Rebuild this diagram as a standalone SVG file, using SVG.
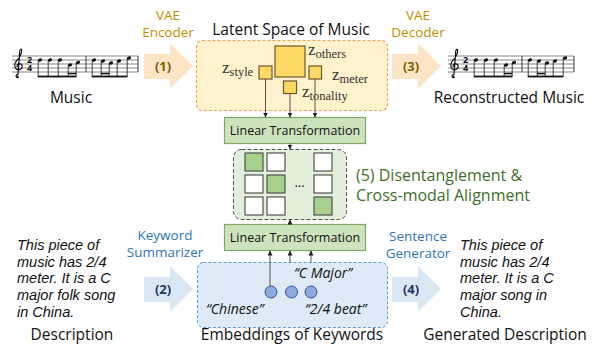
<svg xmlns="http://www.w3.org/2000/svg" width="592" height="345" viewBox="0 0 592 345">
  <defs>
    <marker id="tip" viewBox="0 0 6 6" refX="6" refY="3" markerWidth="5" markerHeight="5" orient="auto" markerUnits="userSpaceOnUse">
      <path d="M0,0 L6,3 L0,6 Z" fill="#222"/>
    </marker>
    <!-- one line of sheet music: staff, clef, 2/4 time, two beamed measures -->
    <g id="score">
      <g stroke="#555" stroke-width="0.7">
        <line x1="12" y1="56" x2="138" y2="56"/>
        <line x1="12" y1="60" x2="138" y2="60"/>
        <line x1="12" y1="64" x2="138" y2="64"/>
        <line x1="12" y1="68" x2="138" y2="68"/>
        <line x1="12" y1="72" x2="138" y2="72"/>
        <line x1="86" y1="56" x2="86" y2="72" stroke="#222" stroke-width="0.9"/>
        <line x1="138" y1="56" x2="138" y2="72" stroke="#222" stroke-width="0.9"/>
      </g>
      <path d="M18.6,77.5 Q16.2,78.3 16.1,76 Q16.3,74.3 18,74.6 M18,74.6 L19.8,50.5 Q21.8,47.2 21.6,52 Q21,56 16,61.5 Q13.4,65.5 16.2,69 Q19.2,71.2 21.8,68.2 Q23.3,64.3 19.4,63.6 Q16.4,64 17.2,67" fill="none" stroke="#111" stroke-width="1.2"/>
      <circle cx="17.6" cy="76.6" r="1.1" fill="#111"/>
      <text x="29.5" y="63.2" class="ts">2</text>
      <text x="29.5" y="71.2" class="ts">4</text>
      <g fill="#111">
        <ellipse cx="40" cy="60" rx="2.2" ry="1.6" transform="rotate(-20 40 60)"/>
        <ellipse cx="50" cy="60" rx="2.2" ry="1.6" transform="rotate(-20 50 60)"/>
        <ellipse cx="60" cy="60" rx="2.2" ry="1.6" transform="rotate(-20 60 60)"/>
        <ellipse cx="70" cy="65" rx="2.2" ry="1.6" transform="rotate(-20 70 65)"/>
        <ellipse cx="78" cy="62.5" rx="2.2" ry="1.6" transform="rotate(-20 78 62.5)"/>
        <ellipse cx="94" cy="60" rx="2.2" ry="1.6" transform="rotate(-20 94 60)"/>
        <ellipse cx="103" cy="61" rx="2.2" ry="1.6" transform="rotate(-20 103 61)"/>
        <ellipse cx="111" cy="63" rx="2.2" ry="1.6" transform="rotate(-20 111 63)"/>
        <ellipse cx="119" cy="61" rx="2.2" ry="1.6" transform="rotate(-20 119 61)"/>
        <ellipse cx="129" cy="58" rx="2.2" ry="1.6" transform="rotate(-20 129 58)"/>
        <rect x="37.9" y="75.6" width="38.2" height="1.8"/>
        <rect x="67.9" y="72.8" width="8.2" height="1.5"/>
        <rect x="91.9" y="75.6" width="35.2" height="1.8"/>
        <rect x="100.9" y="72.8" width="8.2" height="1.5"/>
      </g>
      <g stroke="#111" stroke-width="0.8">
        <line x1="38.2" y1="60.5" x2="38.2" y2="77"/>
        <line x1="48.2" y1="60.5" x2="48.2" y2="77"/>
        <line x1="58.2" y1="60.5" x2="58.2" y2="77"/>
        <line x1="68.2" y1="65.5" x2="68.2" y2="77"/>
        <line x1="76.2" y1="63" x2="76.2" y2="77"/>
        <line x1="92.2" y1="60.5" x2="92.2" y2="77"/>
        <line x1="101.2" y1="61.5" x2="101.2" y2="77"/>
        <line x1="109.2" y1="63.5" x2="109.2" y2="77"/>
        <line x1="117.2" y1="61.5" x2="117.2" y2="77"/>
        <line x1="127.2" y1="58.5" x2="127.2" y2="77"/>
      </g>
    </g>
    <polygon id="bigArrow" points="144,54 170,54 170,43 193,66 170,89 170,79 144,79"/>
  </defs>
  <style>
    text { font-family: "Open Sans", "Noto Sans", "DejaVu Sans", sans-serif; }
    .ts { font-size: 9px; font-weight: bold; text-anchor: middle; fill: #111; }
    .label { font-size: 15.5px; fill: #111; text-anchor: middle; }
    .gold { font-size: 13.5px; fill: #BF9000; text-anchor: middle; }
    .blue { font-size: 13.5px; fill: #2E75B6; text-anchor: middle; }
    .step { font-size: 13px; font-weight: bold; text-anchor: middle; }
    .desc { font-family: "Liberation Sans", Arial, sans-serif; font-size: 14.5px; font-style: italic; fill: #111; }
    .kw { font-size: 14px; font-style: italic; fill: #111; }
    .lt { fill: #CDE3BE; stroke: #82A665; stroke-width: 1.2; }
    .ltText { font-size: 12.5px; fill: #111; text-anchor: middle; }
    .z { font-family: "Liberation Serif", "DejaVu Serif", serif; font-size: 17px; fill: #333; }
    .zs { font-size: 12.5px; }
    .lat { fill: #FFD966; stroke: #6B5A2A; stroke-width: 1.2; }
    .cell { fill: #FFFFFF; stroke: #444; stroke-width: 1.1; }
    .cell.on { fill: #A9D18E; }
    .emb { fill: #8FAADC; stroke: #2F5597; stroke-width: 1; }
    .conn { stroke: #444; stroke-width: 0.9; fill: none; }
  </style>

  <!-- music input -->
  <g id="music">
    <use href="#score"/>
    <text x="71" y="103" class="label">Music</text>
  </g>

  <!-- step 1: VAE encoder -->
  <g id="encoder">
    <text class="gold"><tspan x="168" y="20">VAE</tspan><tspan x="168" y="37">Encoder</tspan></text>
    <use href="#bigArrow" fill="#FCE4C6"/>
    <text x="163" y="71" class="step" fill="#7F6000">(1)</text>
  </g>

  <!-- latent space -->
  <g id="latent">
    <text x="291" y="35" class="label" font-size="16">Latent Space of Music</text>
    <rect x="196.5" y="40.5" width="191" height="70" rx="6" fill="#FFF2CC" stroke="#F0A050" stroke-width="1.1" stroke-dasharray="3 2"/>
    <rect x="275" y="46" width="30" height="31" class="lat"/>
    <rect x="259" y="66" width="13" height="13" class="lat"/>
    <rect x="309" y="66" width="12.5" height="13" class="lat"/>
    <rect x="283.5" y="81" width="13" height="12.5" class="lat"/>
    <text x="308" y="55" class="z">z<tspan class="zs" dy="3">others</tspan></text>
    <text x="222" y="73" class="z">z<tspan class="zs" dy="3">style</tspan></text>
    <text x="332" y="80" class="z">z<tspan class="zs" dy="3">meter</tspan></text>
    <text x="302" y="97" class="z">z<tspan class="zs" dy="3">tonality</tspan></text>
  </g>

  <!-- step 3: VAE decoder -->
  <g id="decoder">
    <text class="gold"><tspan x="418" y="20">VAE</tspan><tspan x="418" y="37">Decoder</tspan></text>
    <use href="#bigArrow" fill="#FCE4C6" transform="translate(248 0)"/>
    <text x="411" y="71" class="step" fill="#7F6000">(3)</text>
  </g>

  <!-- reconstructed music -->
  <g id="reconstructed">
    <use href="#score" transform="translate(436 0)"/>
    <text x="509" y="103" class="label">Reconstructed Music</text>
  </g>

  <!-- music-side linear transformation -->
  <g id="lt-music">
    <rect x="224.5" y="117.5" width="141" height="26" class="lt"/>
    <text x="295" y="135" class="ltText">Linear Transformation</text>
  </g>

  <!-- step 5: alignment grid -->
  <g id="alignment">
    <rect x="233.5" y="149.5" width="113" height="70" rx="8" fill="#E2EFDA" stroke="#555" stroke-width="1" stroke-dasharray="4 2"/>
    <rect x="245" y="153" width="18" height="18" class="cell on"/>
    <rect x="267" y="153" width="18" height="18" class="cell"/>
    <rect x="314" y="153" width="18" height="18" class="cell"/>
    <rect x="245" y="175" width="18" height="18" class="cell"/>
    <rect x="267" y="175" width="18" height="18" class="cell on"/>
    <rect x="314" y="175" width="18" height="18" class="cell"/>
    <rect x="245" y="197" width="18" height="18" class="cell"/>
    <rect x="267" y="197" width="18" height="18" class="cell"/>
    <rect x="314" y="197" width="18" height="18" class="cell on"/>
    <text x="299.5" y="187" font-size="13" text-anchor="middle" fill="#111">...</text>
  </g>
  <g id="alignment-label">
    <text font-size="16" fill="#3F6E2A"><tspan x="356" y="181">(5) Disentanglement &amp;</tspan><tspan x="356" y="201">Cross-modal Alignment</tspan></text>
  </g>

  <!-- text-side linear transformation -->
  <g id="lt-text">
    <rect x="224.5" y="224.5" width="141" height="26" class="lt"/>
    <text x="295" y="242" class="ltText">Linear Transformation</text>
  </g>

  <!-- input description -->
  <g id="description">
    <text class="desc"><tspan x="17" y="250">This piece of</tspan><tspan x="17" y="266.7">music has 2/4</tspan><tspan x="17" y="283.4">meter. It is a C</tspan><tspan x="17" y="300.1">major folk song</tspan><tspan x="17" y="316.8">in China.</tspan></text>
    <text x="72" y="340" class="label">Description</text>
  </g>

  <!-- step 2: keyword summarizer -->
  <g id="summarizer">
    <text class="blue"><tspan x="165" y="240">Keyword</tspan><tspan x="165" y="257">Summarizer</tspan></text>
    <use href="#bigArrow" fill="#DAE8F5" transform="translate(0 223)"/>
    <text x="163" y="294" class="step" fill="#1F3864">(2)</text>
  </g>

  <!-- keyword embeddings -->
  <g id="keywords">
    <rect x="197.5" y="262.5" width="190" height="65" rx="6" fill="#DEEBF7" stroke="#5B9BD5" stroke-width="1" stroke-dasharray="3 2"/>
    <circle cx="271" cy="292" r="6" class="emb"/>
    <circle cx="291.5" cy="292" r="6" class="emb"/>
    <circle cx="311" cy="292" r="6" class="emb"/>
    <text x="294" y="278" class="kw">“C Major”</text>
    <text x="206" y="314" class="kw">“Chinese”</text>
    <text x="305" y="314" class="kw">“2/4 beat”</text>
    <text x="292" y="340" class="label">Embeddings of Keywords</text>
  </g>

  <!-- step 4: sentence generator -->
  <g id="generator">
    <text class="blue"><tspan x="418" y="241">Sentence</tspan><tspan x="418" y="258">Generator</tspan></text>
    <use href="#bigArrow" fill="#DAE8F5" transform="translate(248 223)"/>
    <text x="411" y="294" class="step" fill="#1F3864">(4)</text>
  </g>

  <!-- generated description -->
  <g id="generated">
    <text class="desc"><tspan x="460" y="250">This piece of</tspan><tspan x="460" y="266.7">music has 2/4</tspan><tspan x="460" y="283.4">meter. It is a C</tspan><tspan x="460" y="300.1">major song in</tspan><tspan x="460" y="316.8">China.</tspan></text>
    <text x="505" y="340" class="label">Generated Description</text>
  </g>

  <!-- connectors -->
  <g id="connectors">
    <line x1="265.5" y1="79" x2="265.5" y2="117.5" class="conn" marker-end="url(#tip)"/>
    <line x1="290" y1="93.5" x2="290" y2="117.5" class="conn" marker-end="url(#tip)"/>
    <line x1="315" y1="79" x2="315" y2="117.5" class="conn" marker-end="url(#tip)"/>
    <line x1="290" y1="143.5" x2="290" y2="149.5" class="conn" marker-end="url(#tip)"/>
    <line x1="290" y1="224.5" x2="290" y2="219.5" class="conn" marker-end="url(#tip)"/>
    <line x1="270" y1="286" x2="270" y2="250.5" class="conn" marker-end="url(#tip)"/>
    <line x1="290" y1="262.5" x2="290" y2="250.5" class="conn" marker-end="url(#tip)"/>
    <line x1="311" y1="262.5" x2="311" y2="250.5" class="conn" marker-end="url(#tip)"/>
  </g>
</svg>
